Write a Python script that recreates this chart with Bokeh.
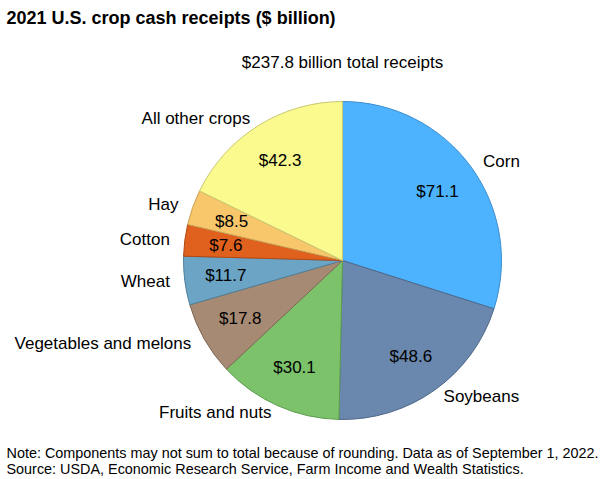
import math
from bokeh.plotting import figure
from bokeh.models import Range1d, ColumnDataSource
from bokeh.core.properties import value
from bokeh.embed import file_html
from bokeh.resources import INLINE

# ---- data ----
categories = ["Corn", "Soybeans", "Fruits and nuts", "Vegetables and melons",
              "Wheat", "Cotton", "Hay", "All other crops"]
receipts = [71.1, 48.6, 30.1, 17.8, 11.7, 7.6, 8.5, 42.3]
total_label = "$237.8 billion total receipts"
fill_colors = ["#4DB3FF", "#6A87AD", "#7BC26B", "#A68A74",
               "#6BA4C4", "#E0601E", "#F8C76C", "#FAFA8E"]
edge_colors = ["#3D8ED0", "#4F6888", "#5E9E50", "#806856",
               "#4F809C", "#B04A16", "#C9A055", "#C8C870"]

W, H = 600, 479
CX, CY = 342, H - 260
R = 159
FONT = value("Liberation Sans")

p = figure(width=W, height=H, output_backend="svg", toolbar_location=None,
           x_range=Range1d(0, W), y_range=Range1d(0, H),
           min_border=0, outline_line_color=None)
p.axis.visible = False
p.grid.visible = False
p.background_fill_color = "white"

tot = sum(receipts)
starts, ends, mids = [], [], []
c = 0.0
for v in receipts:
    c0 = c
    c1 = c + v / tot
    # clockwise from top
    starts.append(math.pi / 2 - 2 * math.pi * c1)
    ends.append(math.pi / 2 - 2 * math.pi * c0)
    mids.append(2 * math.pi * (c0 + c1) / 2)  # clockwise from top
    c = c1

src = ColumnDataSource(dict(x=[CX] * len(receipts), y=[CY] * len(receipts),
                            s=starts, e=ends, fill=fill_colors, edge=edge_colors))
p.wedge(x="x", y="y", radius=R, start_angle="s", end_angle="e",
        fill_color="fill", line_color="edge", line_width=1, source=src)

# value labels
vx, vy, vt = [], [], []
ox, oy, ot, oa = [], [], [], []
for name, v, m in zip(categories, receipts, mids):
    rr = 0.74 * R
    vx.append(CX + rr * math.sin(m))
    vy.append(CY + rr * math.cos(m))
    vt.append(f"${v:.1f}")
    ox.append(CX + (R + 15) * math.sin(m))
    oy.append(CY + (R + 8) * math.cos(m))
    ot.append(name)
    oa.append("left" if math.sin(m) > 0 else "right")

p.text(x=vx, y=vy, text=vt, text_font=FONT, text_font_size="17px",
       text_align="center", text_baseline="middle", text_color="black")
p.text(x=ox, y=oy, text=ot, text_align=oa, text_font=FONT, text_font_size="17px",
       text_baseline="middle", text_color="black")

# title, subtitle, notes
p.text(x=[6], y=[H - 17], text=["2021 U.S. crop cash receipts ($ billion)"],
       text_font=FONT, text_font_size="18px", text_font_style="bold",
       text_baseline="middle", text_color="black")
p.text(x=[CX], y=[H - 62], text=[total_label], text_font=FONT, text_font_size="17px",
       text_align="center", text_baseline="middle", text_color="black")
p.text(x=[6, 6], y=[H - 452, H - 468],
       text=["Note: Components may not sum to total because of rounding. Data as of September 1, 2022.",
             "Source: USDA, Economic Research Service, Farm Income and Wealth Statistics."],
       text_font=FONT, text_font_size="14.4px", text_baseline="middle", text_color="black")

open("out.html", "w").write(file_html(p, INLINE))
